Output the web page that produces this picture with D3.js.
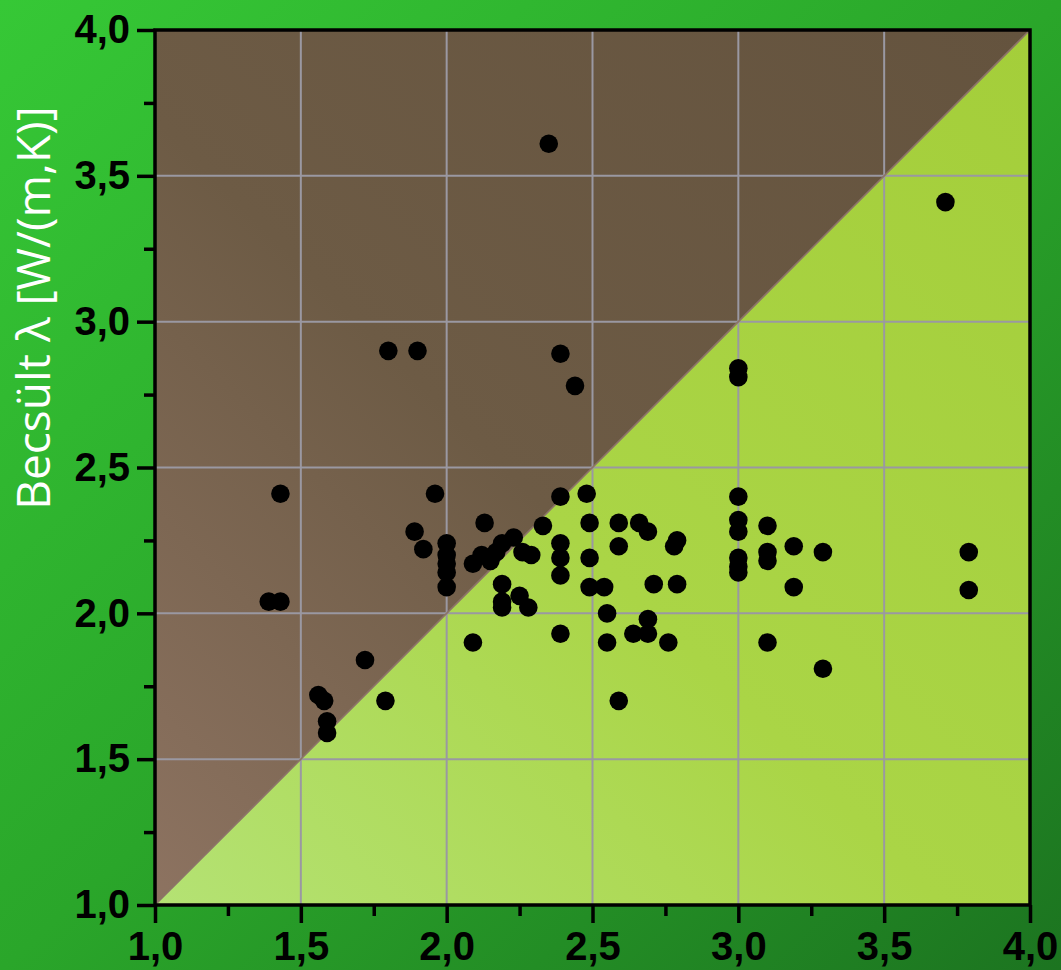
<!DOCTYPE html>
<html>
<head>
<meta charset="utf-8">
<script src="https://cdn.jsdelivr.net/npm/d3@7"></script>
<style>
  html, body { margin: 0; padding: 0; background: #2aa52a; }
  svg { display: block; }
</style>
</head>
<body>
<svg id="chart" width="1061" height="970"></svg>
<script>
// ---- data ----
const measuredX = [2.35, 3.71, 1.80, 1.90, 2.39, 2.44, 3.00, 3.00, 1.43, 1.96, 2.39, 2.48, 3.00, 1.39, 1.43,
  1.89, 1.92, 2.00, 2.00, 2.00, 2.00, 2.00, 2.13, 2.09, 2.12, 2.15, 2.17, 2.19, 2.23, 2.33, 2.26, 2.29,
  2.19, 2.19, 2.19, 2.25, 2.28, 2.09, 2.49, 2.59, 2.66, 2.69, 2.79, 2.78, 2.39, 2.39, 2.39, 2.59, 2.49,
  2.49, 2.54, 2.71, 2.79, 2.55, 2.69, 2.69, 2.64, 2.39, 2.55, 2.76, 2.59, 3.00, 3.00, 3.00, 3.00, 3.00,
  3.10, 3.10, 3.10, 3.19, 3.29, 3.19, 3.10, 3.29, 3.79, 3.79, 1.72, 1.56, 1.58, 1.59, 1.59, 1.79];
const estimatedY = [3.61, 3.41, 2.90, 2.90, 2.89, 2.78, 2.84, 2.81, 2.41, 2.41, 2.40, 2.41, 2.40, 2.04, 2.04,
  2.28, 2.22, 2.24, 2.20, 2.17, 2.14, 2.09, 2.31, 2.17, 2.20, 2.18, 2.21, 2.24, 2.26, 2.30, 2.21, 2.20,
  2.10, 2.04, 2.02, 2.06, 2.02, 1.90, 2.31, 2.31, 2.31, 2.28, 2.25, 2.23, 2.24, 2.19, 2.13, 2.23, 2.19,
  2.09, 2.09, 2.10, 2.10, 2.00, 1.98, 1.93, 1.93, 1.93, 1.90, 1.90, 1.70, 2.32, 2.28, 2.19, 2.16, 2.14,
  2.30, 2.21, 2.18, 2.23, 2.21, 2.09, 1.90, 1.81, 2.21, 2.08, 1.84, 1.72, 1.70, 1.63, 1.59, 1.70];
const axisDomain = [1.0, 4.0];
const majorTicks = [1.0, 1.5, 2.0, 2.5, 3.0, 3.5, 4.0];
const minorTicks = [1.25, 1.75, 2.25, 2.75, 3.25, 3.75];
const gridTicks = [1.5, 2.0, 2.5, 3.0, 3.5];
const yTitle = "Becsült λ [W/(m,K)]";

const points = measuredX.map((x, i) => ({ x, y: estimatedY[i] }));

// ---- layout ----
const svg = d3.select("#chart");
const W = 1061, H = 970;
const mLeft = 155, mRight = 1030, mTop = 30, mBottom = 905;
const x = d3.scaleLinear().domain(axisDomain).range([mLeft, mRight]);
const y = d3.scaleLinear().domain(axisDomain).range([mBottom, mTop]);

const defs = svg.append("defs");
const bg = defs.append("linearGradient").attr("id", "bg")
  .attr("x1", 0).attr("y1", 0).attr("x2", 1).attr("y2", 1);
bg.append("stop").attr("offset", "0%").attr("stop-color", "#36c836");
bg.append("stop").attr("offset", "50%").attr("stop-color", "#2aa62a");
bg.append("stop").attr("offset", "100%").attr("stop-color", "#1c7420");

const brown = defs.append("linearGradient").attr("id", "brown")
  .attr("x1", 1).attr("y1", 0).attr("x2", 0).attr("y2", 1);
brown.append("stop").attr("offset", "0%").attr("stop-color", "#64533e");
brown.append("stop").attr("offset", "55%").attr("stop-color", "#6d5b45");
brown.append("stop").attr("offset", "100%").attr("stop-color", "#8d7361");

const lime = defs.append("linearGradient").attr("id", "lime")
  .attr("x1", 1).attr("y1", 0).attr("x2", 0).attr("y2", 1);
lime.append("stop").attr("offset", "0%").attr("stop-color", "#a4ce3a");
lime.append("stop").attr("offset", "55%").attr("stop-color", "#aad546");
lime.append("stop").attr("offset", "100%").attr("stop-color", "#b4e274");

svg.append("rect").attr("width", W).attr("height", H).attr("fill", "url(#bg)");

// triangles
const lo = axisDomain[0], hi = axisDomain[1];
svg.append("path")
  .attr("d", d3.line()([[x(lo), y(lo)], [x(lo), y(hi)], [x(hi), y(hi)]]) + "Z")
  .attr("fill", "url(#brown)");
svg.append("path")
  .attr("d", d3.line()([[x(lo), y(lo)], [x(hi), y(hi)], [x(hi), y(lo)]]) + "Z")
  .attr("fill", "url(#lime)");

// grid
const grid = svg.append("g").attr("stroke", "#9a98a2").attr("stroke-width", 2);
grid.selectAll("line.v").data(gridTicks).join("line").attr("class", "v")
  .attr("x1", d => x(d)).attr("x2", d => x(d)).attr("y1", y(hi)).attr("y2", y(lo));
grid.selectAll("line.h").data(gridTicks).join("line").attr("class", "h")
  .attr("y1", d => y(d)).attr("y2", d => y(d)).attr("x1", x(lo)).attr("x2", x(hi));

// diagonal
svg.append("line")
  .attr("x1", x(lo)).attr("y1", y(lo)).attr("x2", x(hi)).attr("y2", y(hi))
  .attr("stroke", "#8c7468").attr("stroke-width", 1.6);

// dots
svg.append("g").selectAll("circle").data(points).join("circle")
  .attr("cx", d => x(d.x)).attr("cy", d => y(d.y)).attr("r", 9.3)
  .attr("fill", "#000");

// frame
svg.append("rect")
  .attr("x", x(lo)).attr("y", y(hi)).attr("width", x(hi) - x(lo)).attr("height", y(lo) - y(hi))
  .attr("fill", "none").attr("stroke", "#000").attr("stroke-width", 3.5);

// axes
const fmt = d => d3.format(".1f")(d).replace(".", ",");
function styleAxis(g) {
  g.select(".domain").remove();
  g.selectAll(".tick line").attr("stroke", "#000").attr("stroke-width", 3.5);
  g.selectAll("text")
    .attr("fill", "#000")
    .style("font-family", "'Liberation Sans', Arial, sans-serif")
    .style("font-weight", "bold")
    .style("font-size", "40px");
}
svg.append("g").attr("transform", `translate(${mLeft},0)`)
  .call(d3.axisLeft(y).tickValues(majorTicks).tickFormat(fmt).tickSize(18).tickPadding(7))
  .call(styleAxis);
svg.append("g").attr("transform", `translate(${mLeft},0)`)
  .call(d3.axisLeft(y).tickValues(minorTicks).tickFormat("").tickSize(11))
  .call(styleAxis);
svg.append("g").attr("transform", `translate(0,${mBottom})`)
  .call(d3.axisBottom(x).tickValues(majorTicks).tickFormat(fmt).tickSize(18).tickPadding(9))
  .call(styleAxis);
svg.append("g").attr("transform", `translate(0,${mBottom})`)
  .call(d3.axisBottom(x).tickValues(minorTicks).tickFormat("").tickSize(11))
  .call(styleAxis);

// y title
svg.append("text")
  .attr("transform", "translate(50,308) rotate(-90)")
  .attr("text-anchor", "middle")
  .attr("fill", "#ffffff")
  .style("font-family", "'Open Sans', 'Noto Sans', sans-serif")
  .style("font-size", "46px")
  .text(yTitle);
</script>
</body>
</html>
